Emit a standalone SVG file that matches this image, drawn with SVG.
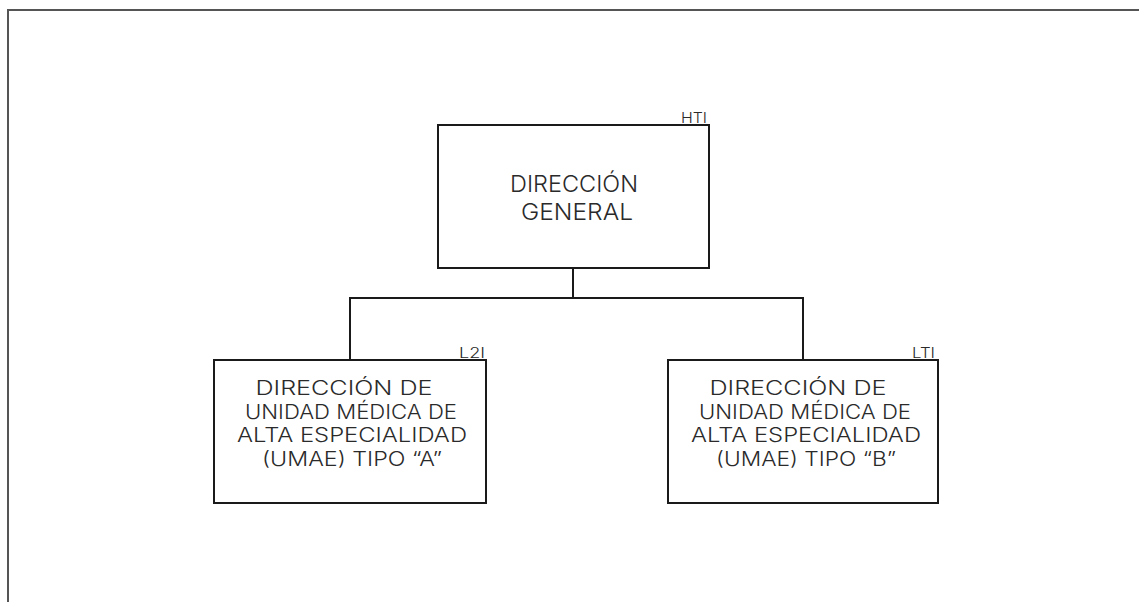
<svg xmlns="http://www.w3.org/2000/svg" width="1139" height="602" viewBox="0 0 1139 602">
<style>
.box{fill:#fff;stroke:#1a1a1a;stroke-width:2}
.t{font-family:Inter,"Open Sans","Liberation Sans",sans-serif;font-weight:300;font-size:19.5px;fill:#2a2a2a;text-anchor:middle}
.tg{font-size:23px}
.s{font-family:Inter,"Open Sans","Liberation Sans",sans-serif;font-weight:300;font-size:14px;fill:#2a2a2a;text-anchor:end}
.c{fill:none;stroke:#1a1a1a;stroke-width:2}
.frame{fill:none;stroke:#555;stroke-width:2}
</style>
<rect width="1139" height="602" fill="#fff"/>
<path class="frame" d="M8,602 V10 H1139"/>
<g id="connectors">
<path class="c" d="M573,268 V298 M350,360 V298 H803 V360"/>
</g>
<g id="n-general">
<rect class="box" x="438" y="125" width="271" height="143"/>
<text class="s" x="707" y="123" textLength="26" lengthAdjust="spacingAndGlyphs">HTI</text>
<text class="t tg" x="574" y="192" textLength="128" lengthAdjust="spacingAndGlyphs">DIRECCIÓN</text>
<text class="t tg" x="577" y="220" textLength="112" lengthAdjust="spacingAndGlyphs">GENERAL</text>
</g>
<g id="n-umae-a">
<rect class="box" x="214" y="360" width="272" height="143"/>
<text class="s" x="485" y="358" textLength="26" lengthAdjust="spacingAndGlyphs">L2I</text>
<text class="t" x="344" y="395" textLength="177" lengthAdjust="spacingAndGlyphs">DIRECCIÓN DE</text>
<text class="t" x="351" y="418.5" textLength="212" lengthAdjust="spacingAndGlyphs">UNIDAD MÉDICA DE</text>
<text class="t" x="352" y="442" textLength="230" lengthAdjust="spacingAndGlyphs">ALTA ESPECIALIDAD</text>
<text class="t" x="352" y="465.5" textLength="180" lengthAdjust="spacingAndGlyphs">(UMAE) TIPO “A”</text>
</g>
<g id="n-umae-b">
<rect class="box" x="668" y="360" width="270" height="143"/>
<text class="s" x="935" y="358" textLength="23" lengthAdjust="spacingAndGlyphs">LTI</text>
<text class="t" x="798" y="395" textLength="177" lengthAdjust="spacingAndGlyphs">DIRECCIÓN DE</text>
<text class="t" x="805" y="418.5" textLength="212" lengthAdjust="spacingAndGlyphs">UNIDAD MÉDICA DE</text>
<text class="t" x="806" y="442" textLength="230" lengthAdjust="spacingAndGlyphs">ALTA ESPECIALIDAD</text>
<text class="t" x="806" y="465.5" textLength="180" lengthAdjust="spacingAndGlyphs">(UMAE) TIPO “B”</text>
</g>
</svg>
